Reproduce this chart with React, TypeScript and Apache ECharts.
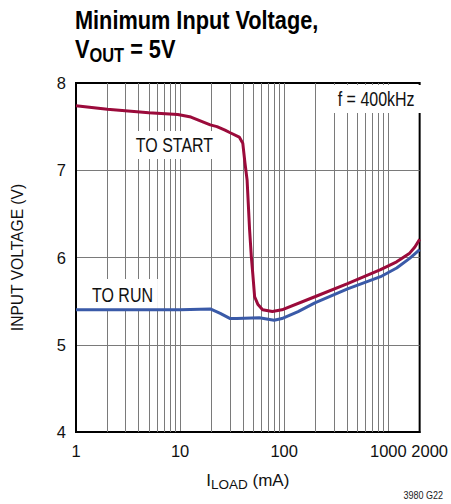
import React, { useEffect, useRef } from 'react';
import * as echarts from 'echarts';

// I_LOAD (mA) vs minimum input voltage (V)
const startLoad = [1, 2, 5, 9.5, 12.7, 19.5, 22.6, 27, 30.3, 37, 40, 42, 44, 46.5, 48.4, 50, 52, 56, 62, 77, 95, 197, 406, 842, 1203, 1604, 1800, 2000];
const startVolt = [7.74, 7.7, 7.66, 7.64, 7.61, 7.52, 7.5, 7.46, 7.43, 7.38, 7.31, 7.08, 6.89, 6.32, 6.0, 5.8, 5.55, 5.46, 5.4, 5.38, 5.4, 5.55, 5.7, 5.86, 5.95, 6.05, 6.12, 6.21];
const runLoad = [1, 5, 10, 19.5, 24.3, 30.3, 35, 57.6, 80, 95, 136, 197, 406, 842, 1203, 1604, 2000];
const runVolt = [5.4, 5.4, 5.4, 5.41, 5.36, 5.3, 5.3, 5.31, 5.28, 5.3, 5.38, 5.48, 5.64, 5.78, 5.88, 5.99, 6.09];

const minorGridLoads = [2, 3, 4, 5, 6, 7, 8, 9, 20, 30, 40, 50, 60, 70, 80, 90, 200, 300, 400, 500, 600, 700, 800, 900];
const xRange = [1, 2000];
const yRange = [4, 8];
const yStep = 1;

const REG = '"Liberation Sans", Arial, sans-serif';
const NARROW_X = 0.82;
const RED = '#9b0b3b';
const BLUE = '#3a5aa8';
const GRID = '#7a7a7a';

export default function App() {
  const ref = useRef<HTMLDivElement>(null);
  useEffect(() => {
    if (!ref.current) return;
    const chart = echarts.init(ref.current, null, { renderer: 'svg' });
    const toPairs = (xs: number[], ys: number[]) => xs.map((x, i) => [x, ys[i]]);
    const note = (text: string, x: number, y: number, padding: number[]) => ({
      type: 'text', x, y, z: 2, scaleX: NARROW_X,
      style: { text, fontFamily: REG, fontSize: 19.5, fill: '#111', align: 'center', verticalAlign: 'middle', backgroundColor: '#fff', padding },
    });
    chart.setOption({
      animation: false,
      backgroundColor: '#fff',
      grid: {
        left: 76, right: 24, top: 83, bottom: 72,
        show: true, borderColor: '#000', borderWidth: 2, backgroundColor: 'transparent',
      },
      xAxis: {
        type: 'log',
        logBase: 10,
        min: xRange[0],
        max: xRange[1],
        axisLine: { show: true, lineStyle: { color: '#000', width: 2 } },
        axisTick: { show: false },
        splitLine: { show: true, showMinLine: false, showMaxLine: false, lineStyle: { color: GRID, width: 1 } },
        axisLabel: {
          margin: 10,
          fontFamily: REG,
          fontSize: 16.5,
          color: '#111',
          hideOverlap: false,
          formatter: (v: number) => {
            const r = Math.round(v);
            return r === xRange[1] ? '{r|' + r + '}' : String(r);
          },
          rich: { r: { fontFamily: REG, fontSize: 16.5, color: '#111', padding: [0, 0, 0, 20] } },
        },
        name: '{i|I}{s|LOAD}{i| (mA)}',
        nameLocation: 'middle',
        nameGap: 37,
        nameTextStyle: {
          rich: {
            i: { fontFamily: REG, fontSize: 17, color: '#111' },
            s: { fontFamily: REG, fontSize: 13.5, color: '#111', padding: [8, 0, 0, 0] },
          },
        },
      },
      yAxis: {
        type: 'value',
        min: yRange[0],
        max: yRange[1],
        interval: yStep,
        axisLine: { show: true, lineStyle: { color: '#000', width: 2 } },
        axisTick: { show: false },
        splitLine: { show: true, showMinLine: false, showMaxLine: false, lineStyle: { color: GRID, width: 1 } },
        axisLabel: { margin: 10, fontFamily: REG, fontSize: 16.5, color: '#111' },
        name: 'INPUT VOLTAGE (V)',
        nameLocation: 'middle',
        nameRotate: 90,
        nameGap: 51,
        nameTextStyle: { fontFamily: REG, fontSize: 15.6, color: '#111' },
      },
      graphic: [
        {
          type: 'text', x: 75, y: 19.6, z: 2, scaleX: NARROW_X,
          style: { text: 'Minimum Input Voltage,', fontFamily: REG, fontSize: 26.5, fontWeight: 'bold', fill: '#000', align: 'left', verticalAlign: 'middle' },
        },
        {
          type: 'text', x: 75, y: 49, z: 2, scaleX: NARROW_X,
          style: {
            text: '{b|V}{s|OUT}{b| = 5V}',
            align: 'left', verticalAlign: 'middle',
            rich: {
              b: { fontFamily: REG, fontSize: 26.5, fontWeight: 'bold', fill: '#000' },
              s: { fontFamily: REG, fontSize: 20, fontWeight: 'bold', fill: '#000', padding: [12, 0, 0, 0] },
            },
          },
        },
        note('TO START', 174.5, 145, [4, 9, 4, 9]),
        note('TO RUN', 122.5, 295, [6, 6, 6, 6]),
        note('f = 400kHz', 377, 99, [4, 11, 4, 9]),
        {
          type: 'text', x: 443, y: 501, z: 2, scaleX: NARROW_X,
          style: { text: '3980 G22', fontFamily: REG, fontSize: 11, fill: '#222', align: 'right', verticalAlign: 'bottom' },
        },
      ],
      series: [
        {
          name: 'grid',
          type: 'line',
          data: [],
          silent: true,
          markLine: {
            z: 1,
            silent: true,
            symbol: ['none', 'none'],
            label: { show: false },
            lineStyle: { color: GRID, width: 1, type: 'solid' },
            emphasis: { disabled: true },
            data: minorGridLoads.map((v) => ({ xAxis: v })),
          },
        },
        {
          name: 'TO START',
          type: 'line',
          z: 3,
          data: toPairs(startLoad, startVolt),
          showSymbol: false,
          smooth: false,
          lineStyle: { color: RED, width: 3 },
          clip: true,
        },
        {
          name: 'TO RUN',
          type: 'line',
          z: 3,
          data: toPairs(runLoad, runVolt),
          showSymbol: false,
          smooth: false,
          lineStyle: { color: BLUE, width: 3 },
          clip: true,
        },
      ],
    });
    return () => chart.dispose();
  }, []);
  return <div ref={ref} style={{ width: 451, height: 504, position: 'absolute', left: 0, top: 0 }} />;
}
